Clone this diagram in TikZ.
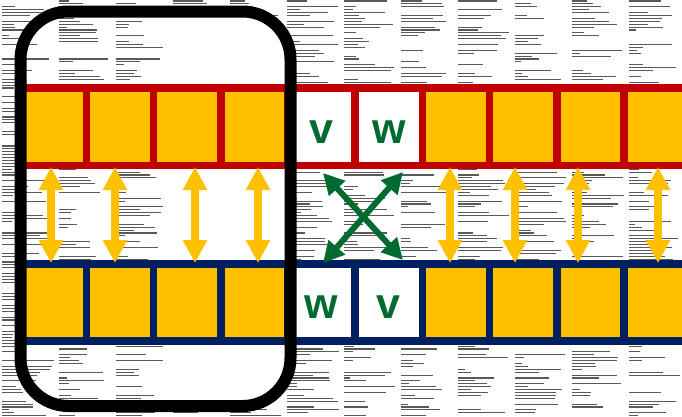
\documentclass[tikz,border=0pt]{standalone}
\usepackage{fontspec}
\setmainfont{Liberation Sans}
\usepackage{tikz}
\usetikzlibrary{positioning,arrows.meta}
\definecolor{bandred}{RGB}{192,0,0}
\definecolor{bandnavy}{RGB}{0,32,96}
\definecolor{cellgold}{RGB}{255,192,0}
\definecolor{swapgreen}{RGB}{0,107,48}

\begin{document}
\begin{tikzpicture}[
  x=1pt, y=-1pt,
  band/.style={minimum width=664pt, minimum height=85pt, inner sep=0pt, outer sep=0pt},
  cell/.style={fill=cellgold, minimum width=59.5pt, minimum height=70pt, inner sep=0pt, outer sep=0pt},
  wcell/.style={cell, fill=white, text=swapgreen, text height=32pt, text depth=0pt, font=\fontsize{43}{43}\selectfont\bfseries},
  txtline/.style={black!65, line width=1.1pt},
  yarr/.style={{Triangle[length=23pt,width=23pt]}-{Triangle[length=23pt,width=23pt]}, cellgold, line width=8pt},
  xarr/.style={{Triangle[length=21pt,width=21pt]}-{Triangle[length=21pt,width=21pt]}, swapgreen, line width=6pt},
  winframe/.style={draw=black, line width=12pt, rounded corners=48pt, minimum width=270pt, minimum height=394.5pt, inner sep=0pt}
]
\useasboundingbox (0,0) rectangle (682,416);
% printed page behind the buffers
\pgfmathsetseed{42}
\foreach \c in {0,...,11}{
  \foreach \r in {0,...,145}{
    \pgfmathsetmacro\len{rnd<0.35 ? 0 : 6+rnd*46}
    \ifdim\len pt>0pt \draw[txtline] (\c*57+2, \r*2.9+1) -- ++(\len,0); \fi
  }
}
\fill[white] (163,18) rectangle (284,400);

\node[band, fill=bandred] (topband) at (350,126.5) {};
\node[band, fill=bandnavy] (botband) at (350,302.5) {};
\foreach \i in {0,1,2,3,6,7,8,9}{
  \node[cell] (t\i) at (52.75+67.2*\i,127) {};
  \node[cell, minimum height=69pt] (b\i) at (52.75+67.2*\i,302.5) {};
}
\node[wcell] (t4) at (321.55,127) {v};
\node[wcell] (t5) at (388.75,127) {w};
\node[wcell, minimum height=69pt] (b4) at (321.55,302.5) {w};
\node[wcell, minimum height=69pt] (b5) at (388.75,302.5) {v};

\foreach \x [count=\k] in {51,115,195,258,450,515,578,658}{
  \coordinate (ax\k) at (\x,0);
  \draw[yarr, shorten <=-2pt, shorten >=-3pt] (topband.south -| ax\k) -- (botband.north -| ax\k);
}

\coordinate (vtop) at (323,173);
\coordinate (wtop) at (403,172);
\coordinate (wbot) at (323,263);
\coordinate (vbot) at (403,260);
\draw[xarr] (vtop) -- (vbot);
\draw[xarr] (wtop) -- (wbot);

\node[winframe] (win) at (155.5,208.75) {};
\end{tikzpicture}
\end{document}
